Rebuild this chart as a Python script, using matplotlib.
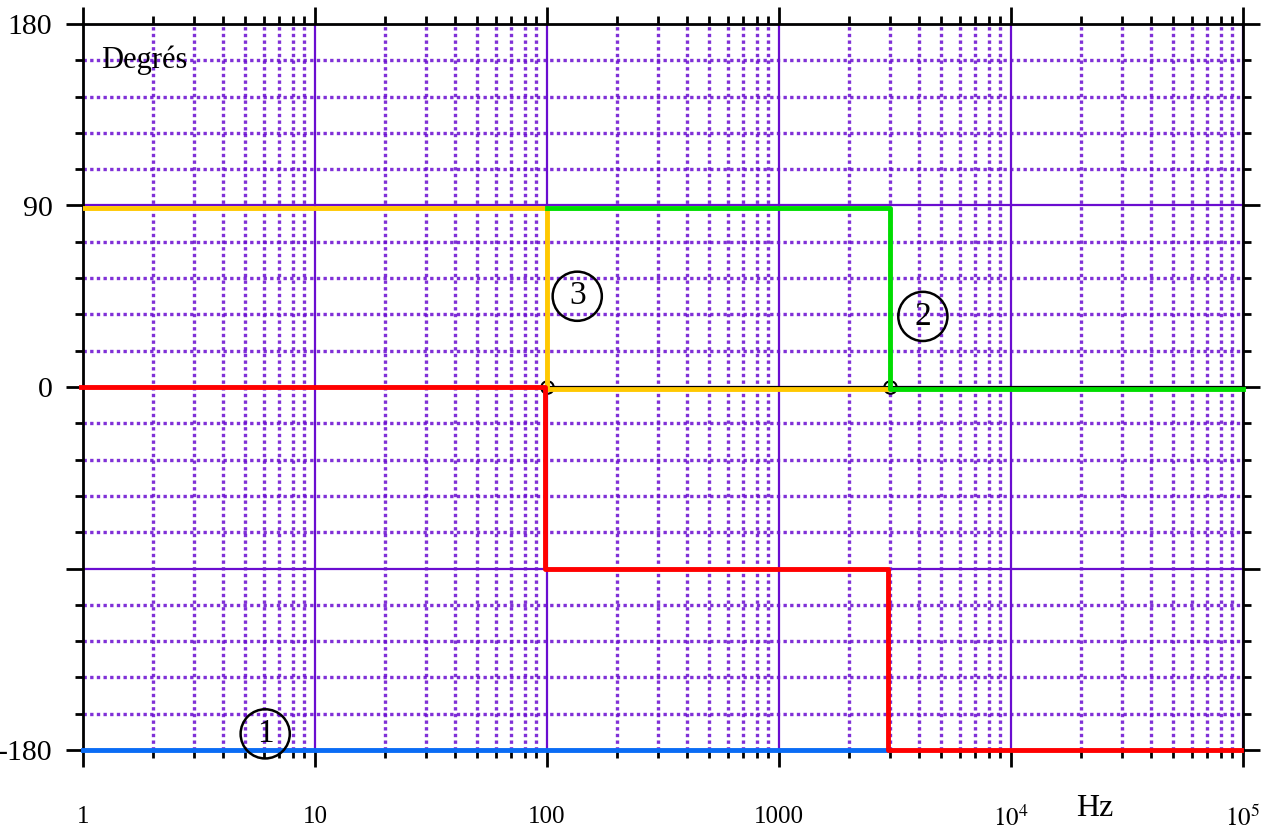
import numpy as np
import matplotlib.pyplot as plt
import matplotlib.transforms as mtrans
from matplotlib.ticker import FixedLocator

# phase curves (Hz, degrees)
f_blue = [1, 3000]
p_blue = [-180, -180]
f_red = [1, 100, 100, 3000, 3000, 1e5]
p_red = [0, 0, -90, -90, -180, -180]
f_yellow = [1, 100, 100, 3000]
p_yellow = [90, 90, 0, 0]
f_green = [100, 3000, 3000, 1e5]
p_green = [90, 90, 0, 0]
f_knees = [100, 3000]

labels = ['1', '2', '3']
label_f = [6.1, 4170, 135]
label_p = [-172, 35, 45]

xticks = [1, 10, 100, 1000, 1e4, 1e5]
xticklabels = ['1', '10', '100', '1000', '$10^4$', '$10^5$']
yticks = [-180, -90, 0, 90, 180]
yticklabels = ['-180', '', '0', '90', '180']

plt.rcParams['font.family'] = ['Liberation Serif', 'DejaVu Serif']
plt.rcParams['mathtext.fontset'] = 'stix'

fig = plt.figure(figsize=(12.68, 8.3), dpi=100)
ax = fig.add_axes([83 / 1268, 1 - 750 / 830, 1160 / 1268, 726 / 830])
ax.set_xscale('log')
ax.set_xlim(1, 1e5)
ax.set_ylim(-180, 180)

purple = '#6a0dd0'
minor_x = [m * 10 ** d for d in range(5) for m in range(2, 10)]
minor_y = [v for v in range(-180, 181, 18) if v % 90 != 0]
ax.xaxis.set_major_locator(FixedLocator(xticks))
ax.xaxis.set_minor_locator(FixedLocator(minor_x))
ax.yaxis.set_major_locator(FixedLocator(yticks))
ax.yaxis.set_minor_locator(FixedLocator(minor_y))
ax.set_xticklabels(xticklabels)
ax.set_yticklabels(yticklabels)

ax.grid(which='major', color=purple, lw=1.6, ls='-')
ax.grid(which='minor', color=purple, lw=2.4, ls=(0, (1, 1)), alpha=0.85)
ax.axhline(0, color='black', lw=1.5, zorder=2.5)

ax.tick_params(which='both', direction='out', top=True, right=True, width=2, color='black')
ax.tick_params(which='major', length=12)
ax.tick_params(which='minor', length=6)
ax.tick_params(axis='x', which='major', labelsize=18, pad=28)
ax.tick_params(axis='y', which='major', labelsize=21.5, pad=10)
for s in ax.spines.values():
    s.set_linewidth(2)

down = mtrans.offset_copy(ax.transData, fig=fig, x=0, y=-2.5, units='dots')
left = mtrans.offset_copy(ax.transData, fig=fig, x=-2, y=0, units='dots')

ax.plot(f_knees, [0, 0], 'o', ms=9, mfc='white', mec='black', mew=1.5, zorder=2.4)
ax.plot(f_blue, p_blue, color='#0a6cf5', lw=3.5, zorder=3, clip_on=False)
ax.plot(f_yellow, p_yellow, color='#ffc800', lw=3.5, zorder=3, transform=down)
ax.plot(f_green, p_green, color='#00dd00', lw=3.5, zorder=3, transform=down, clip_on=False)
ax.plot(f_red, p_red, color='#ff0000', lw=3.5, zorder=3.2, transform=left, clip_on=False)

for t, fx, py in zip(labels, label_f, label_p):
    ax.text(fx, py, t, fontsize=24, ha='center', va='center', zorder=5,
            bbox=dict(boxstyle='circle,pad=0.28', fc='none', ec='black', lw=1.8))

ax.text(1.2, 162, 'Degrés', fontsize=22, ha='left', va='center')
fig.text(1095 / 1268, 1 - 808 / 830, 'Hz', fontsize=23, ha='center', va='center')

fig.savefig('out.png', dpi=100)
